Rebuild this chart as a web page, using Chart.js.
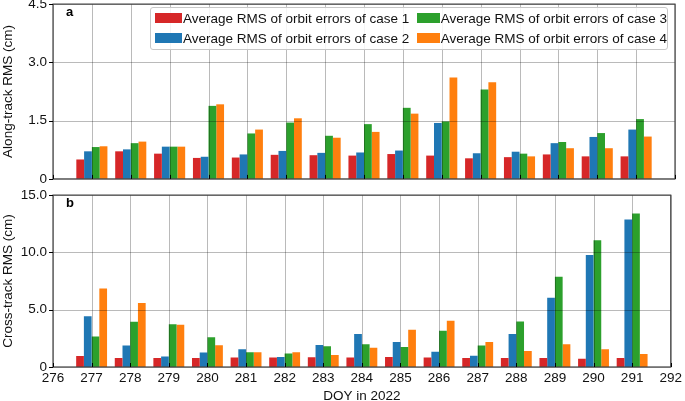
<!DOCTYPE html>
<html>
<head>
<title>Orbit error RMS</title>
<script src="https://cdn.jsdelivr.net/npm/chart.js"></script>
<style>
    body { margin: 0; background: #fff; font-family: 'Liberation Sans', Arial, sans-serif; overflow: hidden; }
    #wrap { position: relative; width: 685px; height: 401px; overflow: hidden; }
    #topBox { position: absolute; left: 0; top: -10px; width: 685px; height: 203px; }
    #botBox { position: absolute; left: 0; top: 181px; width: 685px; height: 223px; }
    #legend {
        position: absolute; left: 150px; top: 7px; width: 516px; height: 41px;
        border: 1px solid #c8c8c8; border-radius: 3px; background: rgba(255,255,255,0.85);
        display: grid; grid-template-columns: 262px 254px; grid-template-rows: 20px 20px;
        font-size: 13.5px; color: #111;
    }
    .item { display: flex; align-items: center; white-space: nowrap; }
    .sw { width: 27px; height: 10px; margin-left: 4px; margin-right: 1px; }
</style>
</head>
<body>
<div id="wrap">
    <div id="topBox"><canvas id="alongChart"></canvas></div>
    <div id="botBox"><canvas id="crossChart"></canvas></div>
    <div id="legend"></div>
</div>
<script>
const days = [277, 278, 279, 280, 281, 282, 283, 284, 285, 286, 287, 288, 289, 290, 291];

const alongCase1 = [0.50, 0.71, 0.65, 0.54, 0.55, 0.62, 0.61, 0.60, 0.64, 0.60, 0.53, 0.56, 0.63, 0.58, 0.58];
const alongCase2 = [0.71, 0.76, 0.83, 0.57, 0.63, 0.72, 0.67, 0.68, 0.73, 1.44, 0.66, 0.70, 0.92, 1.08, 1.27];
const alongCase3 = [0.82, 0.92, 0.83, 1.88, 1.17, 1.45, 1.11, 1.41, 1.83, 1.48, 2.30, 0.65, 0.95, 1.18, 1.54];
const alongCase4 = [0.84, 0.96, 0.83, 1.92, 1.27, 1.56, 1.06, 1.21, 1.68, 2.61, 2.49, 0.58, 0.79, 0.79, 1.09];

const crossCase1 = [0.96, 0.79, 0.79, 0.79, 0.82, 0.82, 0.85, 0.82, 0.88, 0.82, 0.79, 0.79, 0.79, 0.73, 0.79];
const crossCase2 = [4.42, 1.87, 0.91, 1.26, 1.55, 0.88, 1.93, 2.89, 2.19, 1.32, 0.99, 2.89, 6.05, 9.77, 12.87];
const crossCase3 = [2.66, 3.95, 3.74, 2.60, 1.29, 1.17, 1.81, 1.99, 1.75, 3.16, 1.87, 3.98, 7.87, 11.05, 13.39];
const crossCase4 = [6.84, 5.58, 3.68, 1.90, 1.29, 1.29, 1.05, 1.67, 3.25, 4.04, 2.19, 1.40, 1.99, 1.55, 1.14];

const caseLabels = [
    'Average RMS of orbit errors of case 1',
    'Average RMS of orbit errors of case 2',
    'Average RMS of orbit errors of case 3',
    'Average RMS of orbit errors of case 4'
];
const caseColors = ['#d62728', '#1f77b4', '#2ca02c', '#ff7f0e'];

const FONT = "'Liberation Sans', Arial, sans-serif";
const PLOT_LEFT = 53;
const PLOT_RIGHT_PAD = 10;

// grid over the bars, frame, ticks and panel letter
const framePlugin = {
    id: 'frame',
    afterDatasetsDraw(chart) {
        const ctx = chart.ctx;
        const a = chart.chartArea;
        const xs = chart.scales.x, ys = chart.scales.y;
        ctx.save();
        ctx.strokeStyle = 'rgba(0,0,0,0.27)';
        ctx.lineWidth = 1;
        xs.ticks.forEach(t => {
            const px = Math.round(xs.getPixelForValue(t.value)) + 0.5;
            ctx.beginPath(); ctx.moveTo(px, a.top); ctx.lineTo(px, a.bottom); ctx.stroke();
        });
        ys.ticks.forEach(t => {
            const py = Math.round(ys.getPixelForValue(t.value)) + 0.5;
            ctx.beginPath(); ctx.moveTo(a.left, py); ctx.lineTo(a.right, py); ctx.stroke();
        });
        ctx.restore();
    },
    afterDraw(chart, args, opts) {
        const ctx = chart.ctx;
        const a = chart.chartArea;
        const xs = chart.scales.x, ys = chart.scales.y;
        ctx.save();
        ctx.strokeStyle = '#444';
        ctx.lineWidth = 1.2;
        ctx.strokeRect(a.left, a.top, a.right - a.left, a.bottom - a.top);
        ctx.strokeStyle = '#000';
        ctx.lineWidth = 1;
        xs.ticks.forEach(t => {
            const px = Math.round(xs.getPixelForValue(t.value)) + 0.5;
            ctx.beginPath(); ctx.moveTo(px, a.bottom); ctx.lineTo(px, a.bottom - 4); ctx.stroke();
        });
        ys.ticks.forEach(t => {
            const py = Math.round(ys.getPixelForValue(t.value)) + 0.5;
            ctx.beginPath(); ctx.moveTo(a.left, py); ctx.lineTo(a.left - 4, py); ctx.stroke();
        });
        ctx.fillStyle = '#000';
        ctx.font = 'bold 13px ' + FONT;
        ctx.textBaseline = 'middle';
        ctx.fillText(opts.letter, a.left + 13, a.top + 8);
        ctx.restore();
    }
};

function makeSets(series) {
    return series.map((arr, i) => ({
        label: caseLabels[i],
        data: days.map((d, j) => ({ x: d, y: arr[j] })),
        backgroundColor: caseColors[i],
        borderWidth: 0,
        categoryPercentage: 0.8,
        barPercentage: 1.0
    }));
}

function makeChart(id, series, yMax, yStep, yTitle, letter, showX, topPad, xHeight) {
    return new Chart(document.getElementById(id), {
        type: 'bar',
        data: { datasets: makeSets(series) },
        plugins: [framePlugin],
        options: {
            responsive: true,
            maintainAspectRatio: false,
            animation: false,
            layout: { padding: { top: topPad, right: PLOT_RIGHT_PAD, left: 0, bottom: 0 } },
            plugins: {
                legend: { display: false },
                tooltip: { enabled: false },
                frame: { letter: letter }
            },
            scales: {
                x: {
                    type: 'linear',
                    min: 276,
                    max: 292,
                    offset: false,
                    grid: { display: false, offset: false, drawTicks: false },
                    border: { display: false },
                    ticks: {
                        display: showX,
                        stepSize: 1,
                        autoSkip: false,
                        maxRotation: 0,
                        padding: 3,
                        color: '#111',
                        font: { family: FONT, size: 13.5 },
                        callback: v => String(v)
                    },
                    title: {
                        display: showX,
                        text: 'DOY in 2022',
                        color: '#111',
                        padding: { top: 2, bottom: 0 },
                        font: { family: FONT, size: 13.5 }
                    },
                    afterFit: s => { s.height = xHeight; }
                },
                y: {
                    min: 0,
                    max: yMax,
                    grid: { display: false, drawTicks: false },
                    border: { display: false },
                    ticks: {
                        stepSize: yStep,
                        padding: 6,
                        color: '#111',
                        font: { family: FONT, size: 13.5 },
                        callback: v => v === 0 ? '0' : v.toFixed(1)
                    },
                    title: {
                        display: true,
                        text: yTitle,
                        color: '#111',
                        padding: { top: 0, bottom: 2 },
                        font: { family: FONT, size: 13.5 }
                    },
                    afterFit: s => { s.width = PLOT_LEFT; }
                }
            }
        }
    });
}

makeChart('alongChart', [alongCase1, alongCase2, alongCase3, alongCase4],
    4.5, 1.5, 'Along-track RMS (cm)', 'a', false, 5, 8);
makeChart('crossChart', [crossCase1, crossCase2, crossCase3, crossCase4],
    15, 5, 'Cross-track RMS (cm)', 'b', true, 10, 37);

// legend in matplotlib column order: 1,3 / 2,4
const legend = document.getElementById('legend');
[0, 2, 1, 3].forEach(i => {
    const item = document.createElement('div');
    item.className = 'item';
    const sw = document.createElement('span');
    sw.className = 'sw';
    sw.style.background = caseColors[i];
    const txt = document.createElement('span');
    txt.textContent = caseLabels[i];
    item.appendChild(sw);
    item.appendChild(txt);
    legend.appendChild(item);
});
</script>
</body>
</html>
